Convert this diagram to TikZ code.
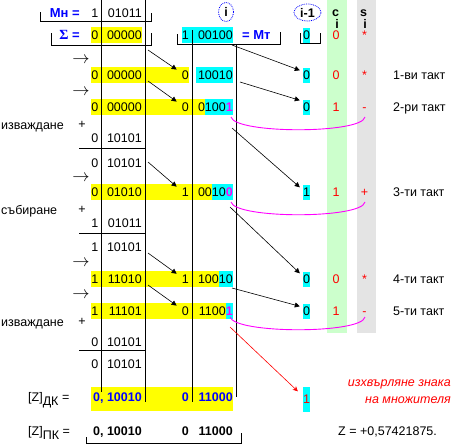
\documentclass[tikz,border=0pt]{standalone}
\usepackage{fontspec}
\setmainfont{Liberation Sans}
\newfontfamily\seriffont{Liberation Serif}
\usetikzlibrary{arrows.meta,shapes.geometric}
\definecolor{yel}{RGB}{255,255,0}
\definecolor{cyn}{RGB}{0,255,255}
\definecolor{grn}{RGB}{204,255,204}
\definecolor{gry}{RGB}{228,228,228}
\definecolor{mag}{RGB}{255,0,255}
\definecolor{rd}{RGB}{255,0,0}
\definecolor{blu}{RGB}{0,0,255}
\newcommand{\mg}[1]{\textcolor{mag}{\bfseries #1}}
\begin{document}
\begin{tikzpicture}[x=1pt,y=-1pt,
  txt/.style={inner sep=0pt,font=\fontsize{12.5}{14}\selectfont},
  dg/.style={txt,anchor=base east},
  lw/.style={txt,anchor=base west},
  redt/.style={txt,anchor=base,text=rd},
  bb/.style={font=\fontsize{13}{15}\selectfont\bfseries,text=blu},
  hdr/.style={txt,anchor=base,font=\fontsize{12.5}{14}\selectfont\bfseries},
  shr/.style={inner sep=0pt,anchor=center,font=\fontsize{17}{19}\selectfont},
  cell/.style={inner sep=0pt,fill=cyn,minimum width=7pt,minimum height=15pt,font=\fontsize{12.5}{14}\selectfont},
  rule/.style={line width=0.9pt},
  arr/.style={line width=0.6pt,-{Triangle[length=5pt,width=5pt]}},
  marc/.style={line width=0.9pt,draw=mag},
  oval/.style={ellipse,draw=blu,densely dotted,line width=0.8pt,inner sep=0pt},
]
\useasboundingbox (0,0) rectangle (455,447);
\fill[white] (0,0) rectangle (455,447);
% columns c_i and s_i
\fill[grn] (327,0) rectangle (347,333);
\fill[gry] (357,0) rectangle (376,333);
% highlights
\fill[yel] (91,27) rectangle (142,43);
\fill[cyn] (182,27) rectangle (233,43);
\fill[yel] (91,67) rectangle (189,83);
\fill[cyn] (196,67) rectangle (233,83);
\fill[yel] (91,99) rectangle (205,115);
\fill[cyn] (205,99) rectangle (233,115);
\fill[yel] (91,184) rectangle (212,200);
\fill[cyn] (212,184) rectangle (233,200);
\fill[yel] (91,271) rectangle (219,287);
\fill[cyn] (219,271) rectangle (233,287);
\fill[yel] (91,303) rectangle (226,319);
\fill[cyn] (226,303) rectangle (233,319);
\fill[yel] (91,387) rectangle (233,411);
% vertical rules
\draw[rule] (101,0) -- (101,392);
\draw[rule] (145.5,0) -- (145.5,402);
\draw[rule] (192.5,30) -- (192.5,402);
\draw[rule] (236.5,45) -- (236.5,397);
% horizontal rules (sums)
\draw[rule] (79,148) -- (145.5,148);
\draw[rule] (79,233) -- (145.5,233);
\draw[rule] (79,350) -- (145.5,350);
% brackets
\draw[rule] (40,12) -- (40,21) -- (151,21) -- (151,13);
\draw[rule] (51,33) -- (51,45) -- (151,45) -- (151,33);
\draw[rule] (177,34) -- (177,44) -- (280,44) -- (280,32);
\draw[rule] (300,33) -- (300,43) -- (320,43) -- (320,33);
\draw[rule] (86,437) -- (86,443) -- (241,443) -- (241,433);

% header
\node[txt,bb,anchor=base east] (mn) at (80,17.5) {Мн =};
\node[dg] (r1s) at (98.5,17.5) {1};
\node[dg] (r1l) at (142,17.5) {01011};
\node[oval,minimum width=15pt,minimum height=19pt,font=\fontsize{12.5}{14}\selectfont\bfseries] (hi) at (226,12) {i};
\node[oval,minimum width=27pt,minimum height=17pt,font=\fontsize{12.5}{14}\selectfont\bfseries] (hi1) at (307.5,12.5) {i-1};
\node[hdr] (hc) at (335.5,16.5) {c};
\node[hdr] (hci) at (337,28.5) {i};
\node[hdr] (hs) at (363.5,16.5) {s};
\node[hdr] (hsi) at (365,28.5) {i};

% row Sigma
\node[txt,bb,anchor=base east] (sig) at (80,39.5) {{\seriffont\fontsize{14}{16}\selectfont Σ} =};
\node[dg] (r2s) at (98.5,39.5) {0};
\node[dg] (r2l) at (142,39.5) {00000};
\node[dg] (r2b) at (189,39.5) {1};
\node[dg] (r2r) at (233,39.5) {00100};
\node[txt,bb,anchor=base west] (mt) at (242,39.5) {= Мт};
\node[cell] (im2) at (306.5,35) {0};
\node[redt] (c2) at (336,39.5) {0};
\node[redt] (s2) at (364.5,39.5) {*};

% row 1
\node[shr] (ar3) at (81,60) {$\rightarrow$};
\node[dg] (r3s) at (98.5,79.5) {0};
\node[dg] (r3l) at (142,79.5) {00000};
\node[dg] (r3b) at (189,79.5) {0};
\node[dg] (r3r) at (233,79.5) {10010};
\node[cell] (im3) at (306.5,75) {0};
\node[redt] (c3) at (336,79.5) {0};
\node[redt] (s3) at (364.5,79.5) {*};
\node[lw] (t3) at (393,79.5) {1-ви такт};

% row 2
\node[shr] (ar4) at (81,92) {$\rightarrow$};
\node[dg] (r4s) at (98.5,111.5) {0};
\node[dg] (r4l) at (142,111.5) {00000};
\node[dg] (r4b) at (189,111.5) {0};
\node[dg] (r4r) at (233,111.5) {0100\mg{1}};
\node[cell] (im4) at (306.5,107) {0};
\node[redt] (c4) at (336,111.5) {1};
\node[redt] (s4) at (364.5,111.5) {-};
\node[lw] (t4) at (393,111.5) {2-ри такт};

% subtraction 1
\node[lw] (op1) at (1,129) {изваждане};
\node[txt,anchor=center] (pl1) at (82,125) {+};
\node[dg] (u1s) at (98.5,142.5) {0};
\node[dg] (u1l) at (142,142.5) {10101};
\node[dg] (v1s) at (98.5,167.5) {0};
\node[dg] (v1l) at (142,167.5) {10101};

% row 3
\node[shr] (ar5) at (81,178) {$\rightarrow$};
\node[dg] (r5s) at (98.5,196.5) {0};
\node[dg] (r5l) at (142,196.5) {01010};
\node[dg] (r5b) at (189,196.5) {1};
\node[dg] (r5r) at (233,196.5) {0010\mg{0}};
\node[cell] (im5) at (306.5,192) {1};
\node[redt] (c5) at (336,196.5) {1};
\node[redt] (s5) at (364.5,196.5) {+};
\node[lw] (t5) at (393,196.5) {3-ти такт};

% addition
\node[lw] (op2) at (1,214) {събиране};
\node[txt,anchor=center] (pl2) at (82,210) {+};
\node[dg] (u2s) at (98.5,227.5) {1};
\node[dg] (u2l) at (142,227.5) {01011};
\node[dg] (v2s) at (98.5,251.5) {1};
\node[dg] (v2l) at (142,251.5) {10101};

% row 4
\node[shr] (ar6) at (81,263) {$\rightarrow$};
\node[dg] (r6s) at (98.5,283.5) {1};
\node[dg] (r6l) at (142,283.5) {11010};
\node[dg] (r6b) at (189,283.5) {1};
\node[dg] (r6r) at (233,283.5) {10010};
\node[cell] (im6) at (306.5,279) {0};
\node[redt] (c6) at (336,283.5) {0};
\node[redt] (s6) at (364.5,283.5) {*};
\node[lw] (t6) at (393,283.5) {4-ти такт};

% row 5
\node[shr] (ar7) at (81,295) {$\rightarrow$};
\node[dg] (r7s) at (98.5,315.5) {1};
\node[dg] (r7l) at (142,315.5) {11101};
\node[dg] (r7b) at (189,315.5) {0};
\node[dg] (r7r) at (233,315.5) {1100\mg{1}};
\node[cell] (im7) at (306.5,311) {0};
\node[redt] (c7) at (336,315.5) {1};
\node[redt] (s7) at (364.5,315.5) {-};
\node[lw] (t7) at (393,315.5) {5-ти такт};

% subtraction 2
\node[lw] (op3) at (1,326) {изваждане};
\node[txt,anchor=center] (pl3) at (82,322) {+};
\node[dg] (u3s) at (98.5,346.5) {0};
\node[dg] (u3l) at (142,346.5) {10101};
\node[dg] (v3s) at (98.5,368.5) {0};
\node[dg] (v3l) at (142,368.5) {10101};

% result DK
\node[lw] (zdk) at (28,401.5) {[Z]\raisebox{-4pt}{ДК} =};
\node[txt,anchor=base east,font=\fontsize{12.5}{14}\selectfont\bfseries,text=blu] (rdl) at (142,401.5) {0, 10010};
\node[txt,anchor=base east,font=\fontsize{12.5}{14}\selectfont\bfseries,text=blu] (rdb) at (189,401.5) {0};
\node[txt,anchor=base east,font=\fontsize{12.5}{14}\selectfont\bfseries,text=blu] (rdr) at (233,401.5) {11000};
\node[cell,minimum height=25pt,text=rd] (imz) at (306.5,399) {1};
\node[txt,anchor=base east,text=rd,font=\fontsize{12.5}{14}\selectfont\itshape] (n1) at (451,386) {изхвърляне знака};
\node[txt,anchor=base east,text=rd,font=\fontsize{12.5}{14}\selectfont\itshape] (n2) at (451,403.5) {на множителя};

% result PK
\node[lw] (zpk) at (28,435.5) {[Z]\raisebox{-4pt}{ПК} =};
\node[txt,anchor=base east,font=\fontsize{12.5}{14}\selectfont\bfseries] (rpl) at (142,435.5) {0, 10010};
\node[txt,anchor=base east,font=\fontsize{12.5}{14}\selectfont\bfseries] (rpb) at (189,435.5) {0};
\node[txt,anchor=base east,font=\fontsize{12.5}{14}\selectfont\bfseries] (rpr) at (233,435.5) {11000};
\node[lw] (zval) at (338,435.5) {Z = +0,57421875.};

% arrow start points
\coordinate (la1) at (148,50);
\coordinate (la2) at (148,81);
\coordinate (la3) at (148,162);
\coordinate (la4) at (148,253);
\coordinate (la5) at (148,285);
\coordinate (ra1) at (232,45);
\coordinate (ra2) at (240,82);
\coordinate (ra3) at (232,128);
\coordinate (ra4) at (230,207);
\coordinate (ra5) at (232,288);
\coordinate (ra6) at (230,327);

% shift arrows into low bit of left register
\draw[arr] (la1) -- ([shift={(-5,-1)}]r3b.north west);
\draw[arr] (la2) -- ([shift={(-5,-1)}]r4b.north west);
\draw[arr] (la3) -- ([shift={(-5,-1)}]r5b.north west);
\draw[arr] (la4) -- ([shift={(-5,-1)}]r6b.north west);
\draw[arr] (la5) -- ([shift={(-5,-1)}]r7b.north west);
% arrows into i-1
\draw[arr] (ra1) -- ([shift={(-3,3)}]im3.north west);
\draw[arr] (ra2) -- ([shift={(-3,1)}]im4.north west);
\draw[arr] (ra3) -- ([shift={(-3,3)}]im5.north west);
\draw[arr] (ra4) -- ([shift={(-3,2)}]im6.north west);
\draw[arr] (ra5) -- ([shift={(-3,3)}]im7.north west);
\draw[line width=0.6pt,rd,-{Stealth[length=5pt,width=5pt]}] (ra6) -- ([shift={(-5,5)}]imz.north west);

% magenta arcs
\coordinate (m1a) at (231,117); \coordinate (m1b) at (365,117);
\coordinate (m2a) at (231,202); \coordinate (m2b) at (365,202);
\coordinate (m3a) at (230,317); \coordinate (m3b) at (365,317);
\draw[marc] (m1a) .. controls (235,134) and (362,134) .. (m1b);
\draw[marc] (m2a) .. controls (235,219) and (362,219) .. (m2b);
\draw[marc] (m3a) .. controls (235,334) and (362,334) .. (m3b);
\end{tikzpicture}
\end{document}
